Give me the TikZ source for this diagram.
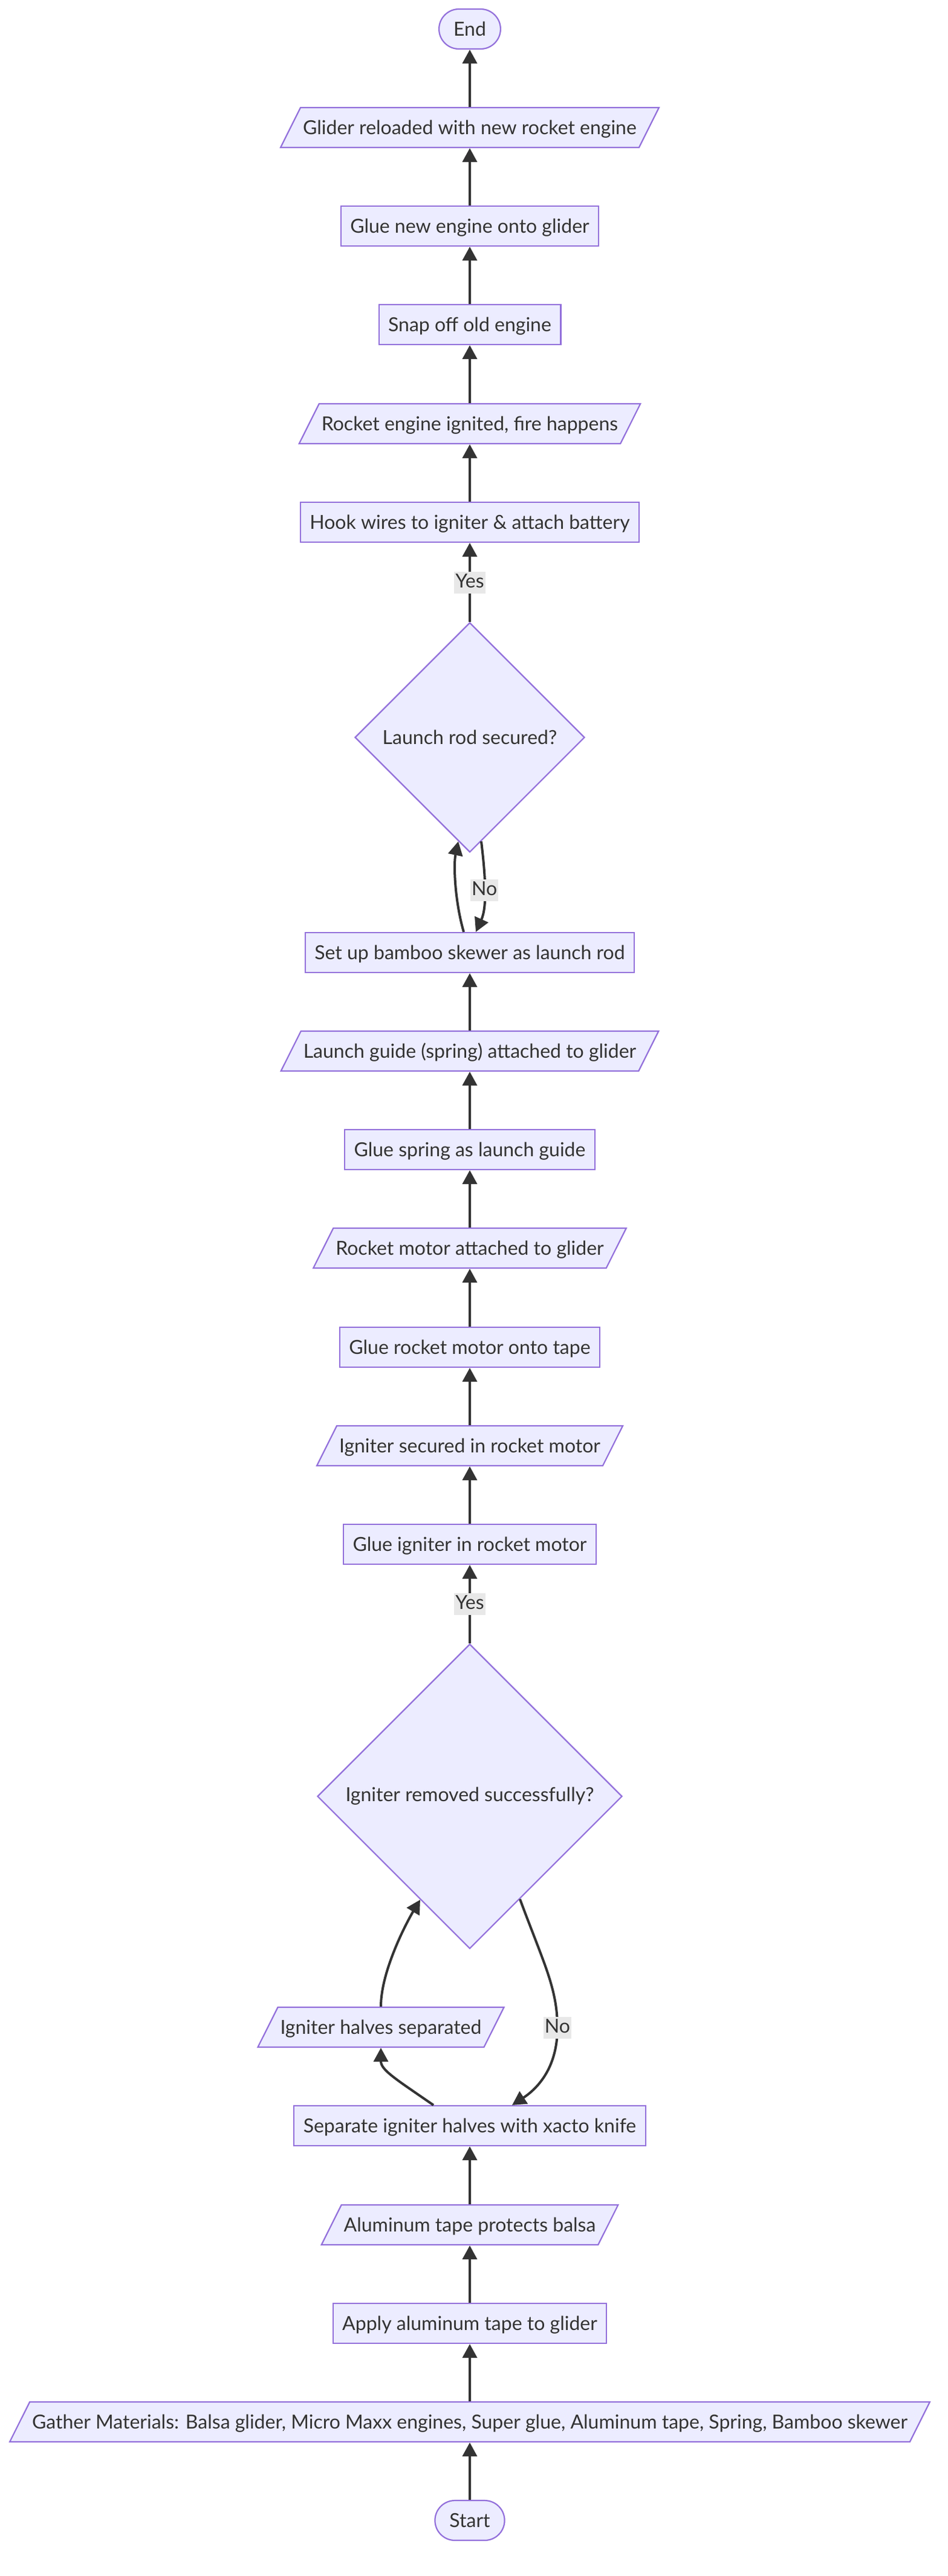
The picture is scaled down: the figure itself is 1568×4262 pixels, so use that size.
\documentclass[tikz,border=0pt]{standalone}
\usepackage{fontspec}
\setmainfont{Lato}
\usetikzlibrary{shapes.geometric,arrows.meta}

\definecolor{nodefill}{HTML}{ECECFF}
\definecolor{nodeline}{HTML}{9370DB}
\definecolor{ink}{HTML}{333333}
\definecolor{lblfill}{HTML}{E8E8E8}

\begin{document}
\begin{tikzpicture}[x=1pt,y=-1pt,font=\fontsize{32pt}{38pt}\selectfont,text=ink,
  base/.style={draw=nodeline,fill=nodefill,line width=2.2pt,text height=23pt,text depth=0pt,inner ysep=21.5pt},
  op/.style={base,rectangle,inner xsep=15.5pt},
  io/.style={base,trapezium,trapezium left angle=63.4,trapezium right angle=116.6,inner xsep=4pt},
  term/.style={base,rectangle,rounded corners=33pt,inner xsep=24pt},
  question/.style={draw=nodeline,fill=nodefill,line width=2.2pt,diamond,inner sep=0pt},
  lbl/.style={fill=lblfill,inner xsep=2pt,inner ysep=3.5pt,text height=23pt,text depth=6pt},
  arr/.style={-{Triangle[length=23pt,width=24pt]},draw=ink,line width=4pt}]
  \useasboundingbox (0,0) rectangle (1568,4262);

  \node [term] (end_st) at (777,48) {End};
  \node [io] (reload_io) at (777,211) {Glider reloaded with new rocket engine};
  \node [op] (newglue_op) at (777,374) {Glue new engine onto glider};
  \node [op] (snap_op) at (777,537) {Snap off old engine};
  \node [io] (ignite_io) at (777,701) {Rocket engine ignited, fire happens};
  \node [op] (hook_op) at (777,864) {Hook wires to igniter \& attach battery};
  \node [question,minimum width=380pt,minimum height=380pt] (rod_q) at (777,1220) {Launch rod secured?};
  \node [op] (rod_op) at (777,1576) {Set up bamboo skewer as launch rod};
  \node [io] (guide_io) at (777,1739) {Launch guide (spring) attached to glider};
  \node [op] (spring_op) at (777,1902) {Glue spring as launch guide};
  \node [io] (motor_io) at (777,2065) {Rocket motor attached to glider};
  \node [op] (tape_op) at (777,2229) {Glue rocket motor onto tape};
  \node [io] (secure_io) at (777,2392) {Igniter secured in rocket motor};
  \node [op] (glue_op) at (777,2555) {Glue igniter in rocket motor};
  \node [question,minimum width=504pt,minimum height=504pt] (removed_q) at (777,2972) {Igniter removed successfully?};
  \node [io] (halves_io) at (630,3354) {Igniter halves separated};
  \node [op] (sep_op) at (777,3517) {Separate igniter halves with xacto knife};
  \node [io] (alu_io) at (777,3681) {Aluminum tape protects balsa};
  \node [op] (apply_op) at (777,3844) {Apply aluminum tape to glider};
  \node [io] (gather_io) at (777,4007) {Gather Materials: Balsa glider, Micro Maxx engines, Super glue, Aluminum tape, Spring, Bamboo skewer};
  \node [term] (start_st) at (777,4170) {Start};

  \draw [arr] (start_st) -- (gather_io);
  \draw [arr] (gather_io) -- (apply_op);
  \draw [arr] (apply_op) -- (alu_io);
  \draw [arr] (alu_io) -- (sep_op);
  \draw [arr] ([xshift=-60pt]sep_op.north) .. controls (655,3440) and (630,3425) .. (halves_io);
  \draw [arr] (halves_io) .. controls (630,3260) and (674,3178) .. ([shift={(-82,-82)}]removed_q.south);
  \draw [arr] ([shift={(83,-83)}]removed_q.south) .. controls (900,3250) and (922,3290) .. (922,3355) node [lbl] {No}
    .. controls (922,3425) and (885,3458) .. ([xshift=70pt]sep_op.north);
  \draw [arr] (removed_q) -- node [lbl] {Yes} (glue_op);
  \draw [arr] (glue_op) -- (secure_io);
  \draw [arr] (secure_io) -- (tape_op);
  \draw [arr] (tape_op) -- (motor_io);
  \draw [arr] (motor_io) -- (spring_op);
  \draw [arr] (spring_op) -- (guide_io);
  \draw [arr] (guide_io) -- (rod_op);
  \draw [arr] ([xshift=-10pt]rod_op.north) .. controls (752,1490) and (750,1430) .. ([shift={(-19,-19)}]rod_q.south);
  \draw [arr] ([shift={(19,-19)}]rod_q.south) .. controls (803,1450) and (806,1500) .. node [lbl,pos=0.5] {No} ([xshift=10pt]rod_op.north);
  \draw [arr] (rod_q) -- node [lbl] {Yes} (hook_op);
  \draw [arr] (hook_op) -- (ignite_io);
  \draw [arr] (ignite_io) -- (snap_op);
  \draw [arr] (snap_op) -- (newglue_op);
  \draw [arr] (newglue_op) -- (reload_io);
  \draw [arr] (reload_io) -- (end_st);
\end{tikzpicture}
\end{document}
